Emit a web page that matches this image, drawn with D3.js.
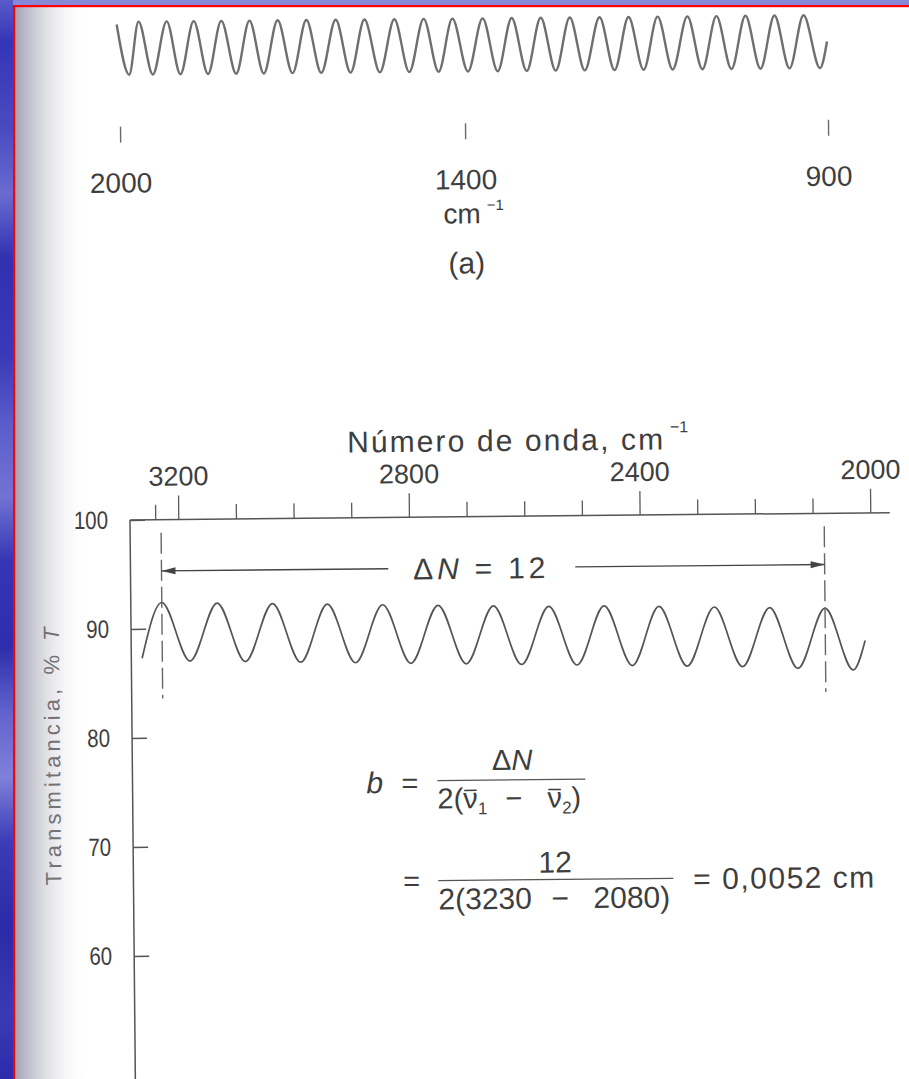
<!DOCTYPE html>
<html>
<head>
<meta charset="utf-8">
<script src="https://cdn.jsdelivr.net/npm/d3@7"></script>
<style>
  html, body { margin: 0; padding: 0; background: #ffffff; overflow: hidden; }
  svg { display: block; }
  text { font-family: "Liberation Sans", Arial, Helvetica, sans-serif; fill: #3e3e3e; }
</style>
</head>
<body>
<svg id="chart" width="909" height="1079"></svg>
<script>
// ---------- Panel (a): fringe pattern, 2000–900 cm^-1 ----------
const ticksA = [2000, 1400, 900];
const tickLabelsA = ["2000", "1400", "900"];
// extrema of the fringe trace (wavenumber, relative level 0 = trough, 1 = crest)
const fringeWnA = [2005, 1984, 1967, 1943, 1918, 1895, 1871, 1847, 1823, 1798, 1774,
  1750, 1725, 1700, 1675, 1650, 1624, 1599, 1574, 1548, 1522, 1497, 1471, 1446, 1421,
  1396, 1375, 1355, 1335, 1315, 1295, 1275, 1255, 1235, 1214, 1194, 1174, 1154, 1134,
  1114, 1093, 1073, 1053, 1033, 1013, 993, 973, 953, 933, 911, 901];
const fringeLevelA = [0.95, 0, 1, 0, 1, 0, 1, 0, 1, 0, 1,
  0, 1, 0, 1, 0, 1, 0, 1, 0, 1, 0, 1, 0, 1,
  0, 1, 0, 1, 0, 1, 0, 1, 0, 1, 0, 1, 0, 1,
  0, 1, 0, 1, 0, 1, 0, 1, 0, 1, 0, 0.5];

// ---------- Panel (b): empty-cell fringes, 3200–2000 cm^-1 ----------
const majorTicksB = [3200, 2800, 2400, 2000];
const majorTickLabelsB = ["3200", "2800", "2400", "2000"];
const minorTicksB = [3240, 3100, 3000, 2900, 2700, 2600, 2500, 2300, 2200, 2100];
const yTicksB = [100, 90, 80, 70, 60];
const yTickLabelsB = ["100", "90", "80", "70", "60"];
const fringeWnB = [3265, 3230, 3182, 3134, 3086, 3038, 2990, 2943, 2895, 2847, 2799,
  2751, 2703, 2655, 2607, 2559, 2511, 2463, 2415, 2368, 2320, 2272, 2224, 2176, 2128,
  2080, 2032, 2011];
const fringeTB = [87.3, 92.4, 87.0, 92.3, 86.9, 92.2, 86.8, 92.1, 86.7, 92.0, 86.6,
  91.9, 86.5, 91.8, 86.4, 91.7, 86.3, 91.7, 86.2, 91.6, 86.1, 91.5, 86.0, 91.4, 85.8,
  91.3, 85.6, 88.3];
const nu1 = 3230, nu2 = 2080;      // wavenumbers of the marked crests
const deltaN = 12;                 // fringes counted between them
const markerSpanT = [98.8, 83.6];  // vertical extent of the dashed markers (%T)
const arrowT = 95.3;               // level of the ΔN arrow (%T)

const svg = d3.select("#chart");
const defs = svg.append("defs");

// ---------- slide frame ----------
const bandGrad = defs.append("linearGradient").attr("id", "band")
  .attr("x1", 0).attr("y1", 0).attr("x2", 0).attr("y2", 1);
[[0, "#5a5ac8"], [0.04, "#3434b8"], [0.12, "#4b4bc0"], [0.18, "#6a6ad0"], [0.24, "#3030b0"],
 [0.33, "#3a3ab8"], [0.4, "#5f5fcc"], [0.46, "#7272d4"], [0.52, "#3636b4"], [0.6, "#2e2eac"],
 [0.66, "#6262cc"], [0.72, "#8080da"], [0.78, "#3c3cb8"], [0.86, "#2a2aa8"], [0.94, "#3a3ab4"],
 [1, "#2c2cac"]].forEach(([o, c]) => bandGrad.append("stop").attr("offset", o).attr("stop-color", c));

const shade = defs.append("linearGradient").attr("id", "shade")
  .attr("x1", 0).attr("y1", 0).attr("x2", 1).attr("y2", 0);
[[0, "#a3a3b6", 1], [0.25, "#c4c4cf", 0.9], [0.6, "#e8e8ee", 0.6], [1, "#ffffff", 0]]
  .forEach(([o, c, a]) => shade.append("stop").attr("offset", o).attr("stop-color", c).attr("stop-opacity", a));

svg.append("rect").attr("x", 15).attr("y", 7).attr("width", 75).attr("height", 1072).attr("fill", "url(#shade)");
svg.append("rect").attr("x", 0).attr("y", 0).attr("width", 909).attr("height", 6).attr("fill", "#8888d8");
svg.append("rect").attr("x", 0).attr("y", 0).attr("width", 13).attr("height", 1079).attr("fill", "url(#band)");
svg.append("rect").attr("x", 13).attr("y", 5).attr("width", 896).attr("height", 2.2).attr("fill", "#ff0000");
svg.append("rect").attr("x", 13).attr("y", 5).attr("width", 2.2).attr("height", 1074).attr("fill", "#ff0000");

// the printed page sits slightly skewed on the slide
const page = svg.append("g").attr("transform", "rotate(-0.55 500 540)");

// ---------- panel (a) ----------
const xA = d3.scaleLinear().domain([2000, 1400, 900]).range([124.5, 469.5, 832.5]);
const yA = d3.scaleLinear().domain([0, 1]).range([71.2, 18.2]);
const ptsA = fringeWnA.map((w, i) => [w, fringeLevelA[i]]);

page.append("path")
  .attr("d", d3.line().x(d => xA(d[0])).y(d => yA(d[1])).curve(d3.curveMonotoneX)(ptsA))
  .attr("fill", "none").attr("stroke", "#6f6f6f").attr("stroke-width", 2.4)
  .attr("stroke-linejoin", "round");

const axA = page.append("g");
axA.selectAll("line").data(ticksA).join("line")
  .attr("x1", d => xA(d)).attr("x2", d => xA(d))
  .attr("y1", 123).attr("y2", 139)
  .attr("stroke", "#6a6a6a").attr("stroke-width", 1.4);
axA.selectAll("text.tl").data(ticksA).join("text").attr("class", "tl")
  .attr("x", d => xA(d)).attr("y", 189)
  .attr("text-anchor", "middle").attr("font-size", 28)
  .text((d, i) => tickLabelsA[i]);

const unitA = page.append("text").attr("x", xA(1400) - 23).attr("y", 223).attr("font-size", 28);
unitA.append("tspan").text("cm");
unitA.append("tspan").attr("font-size", 15).attr("dx", 6).attr("dy", -13).text("−1");
page.append("text").attr("x", xA(1400)).attr("y", 273)
  .attr("text-anchor", "middle").attr("font-size", 30).text("(a)");

// ---------- panel (b) ----------
const xB = d3.scaleLinear().domain([3200, 2000]).range([178.5, 870.5]);
const yB = d3.scaleLinear().domain([100, 50]).range([516.4, 1061.4]);
const x0 = 130.2, xEnd = 890;

// frame lines
page.append("line").attr("x1", x0).attr("x2", xEnd).attr("y1", yB(100)).attr("y2", yB(100))
  .attr("stroke", "#555").attr("stroke-width", 1.5);
page.append("line").attr("x1", x0).attr("x2", x0).attr("y1", yB(100)).attr("y2", 1110)
  .attr("stroke", "#555").attr("stroke-width", 1.5);

// top wavenumber axis
const topAxis = page.append("g").attr("transform", `translate(0,${yB(100)})`);
topAxis.append("g").call(d3.axisTop(xB).tickValues(minorTicksB).tickSize(15).tickFormat(""))
  .call(g => g.select(".domain").remove());
topAxis.append("g").call(d3.axisTop(xB).tickValues(majorTicksB).tickSize(24).tickPadding(10)
    .tickFormat((d, i) => majorTickLabelsB[i]))
  .call(g => g.select(".domain").remove())
  .call(g => g.selectAll("text").attr("font-size", 27).attr("font-family", null).attr("fill", null));
topAxis.selectAll(".tick line").attr("stroke", "#5a5a5a").attr("stroke-width", 1.3);

// left %T axis, ticks pointing into the plot
const condense = 0.82;
const leftAxis = page.append("g").attr("transform", `translate(${x0},0)`)
  .call(d3.axisLeft(yB).tickValues(yTicksB).tickSize(-15).tickPadding(22)
    .tickFormat((d, i) => yTickLabelsB[i]))
  .call(g => g.select(".domain").remove());
leftAxis.selectAll(".tick line").attr("stroke", "#555").attr("stroke-width", 1.4);
leftAxis.selectAll("text").attr("font-size", 25).attr("font-family", null).attr("fill", null)
  .attr("x", -22 / condense).attr("transform", `scale(${condense},1)`);

// axis titles
page.append("text").attr("x", 348).attr("y", 451).attr("font-size", 30)
  .attr("textLength", 316).attr("lengthAdjust", "spacing").text("Número de onda, cm");
page.append("text").attr("x", 671).attr("y", 434).attr("font-size", 16).text("−1");

const yTitle = page.append("text")
  .attr("transform", "translate(58,752) rotate(-90)")
  .attr("text-anchor", "middle").attr("font-size", 22)
  .attr("textLength", 258).attr("lengthAdjust", "spacing")
  .style("fill", "#737373");
yTitle.append("tspan").text("Transmitancia, % ");
yTitle.append("tspan").attr("font-style", "italic").text("T");

// fringe trace
const ptsB = fringeWnB.map((w, i) => [w, fringeTB[i]]);
page.append("path")
  .attr("d", d3.line().x(d => xB(d[0])).y(d => yB(d[1])).curve(d3.curveMonotoneX)(ptsB))
  .attr("fill", "none").attr("stroke", "#555").attr("stroke-width", 1.7)
  .attr("stroke-linejoin", "round");

// dashed markers at the two counted crests
page.selectAll("line.mark").data([nu1, nu2]).join("line").attr("class", "mark")
  .attr("x1", d => xB(d)).attr("x2", d => xB(d))
  .attr("y1", yB(markerSpanT[0])).attr("y2", yB(markerSpanT[1]))
  .attr("stroke", "#666").attr("stroke-width", 1.4).attr("stroke-dasharray", "21 6");

// ΔN arrow with label
const ay = yB(arrowT);
const lbl = page.append("text").attr("x", 413).attr("y", ay + 11)
  .attr("font-size", 30).attr("textLength", 132).attr("lengthAdjust", "spacing");
lbl.append("tspan").text("Δ");
lbl.append("tspan").attr("font-style", "italic").text("N");
lbl.append("tspan").text(` = ${deltaN}`);
const bb = lbl.node().getBBox();
const arrow = page.append("g").attr("stroke", "#444").attr("stroke-width", 1.4);
arrow.append("line").attr("x1", xB(nu1)).attr("x2", bb.x - 25).attr("y1", ay).attr("y2", ay);
arrow.append("line").attr("x1", bb.x + bb.width + 30).attr("x2", xB(nu2)).attr("y1", ay).attr("y2", ay);
const head = (xt, dir) => `M${xt},${ay} L${xt + dir * 14},${ay - 3.5} L${xt + dir * 14},${ay + 3.5} Z`;
page.append("path").attr("d", head(xB(nu1), 1)).attr("fill", "#444");
page.append("path").attr("d", head(xB(nu2), -1)).attr("fill", "#444");

// ---------- thickness formula ----------
const fz = 29;
const f = page.append("g");
const overbar = (textSel, ci, base) => {
  const e = textSel.node().getExtentOfChar(ci);
  f.append("line").attr("x1", e.x + 1).attr("x2", e.x + e.width - 1)
    .attr("y1", base - 0.62 * fz).attr("y2", base - 0.62 * fz)
    .attr("stroke", "#3e3e3e").attr("stroke-width", 1.5);
};

// b = ΔN / 2(ν̄1 − ν̄2)
f.append("text").attr("x", 364).attr("y", 792).attr("font-size", 30).attr("font-style", "italic").text("b");
f.append("text").attr("x", 399).attr("y", 792).attr("font-size", fz).text("=");
const num1 = f.append("text").attr("x", 510).attr("y", 770).attr("text-anchor", "middle").attr("font-size", fz);
num1.append("tspan").text("Δ");
num1.append("tspan").attr("font-style", "italic").text("N");
f.append("line").attr("x1", 435).attr("x2", 583).attr("y1", 780).attr("y2", 780)
  .attr("stroke", "#555").attr("stroke-width", 1.3);
const dBase = 808;
const d1a = f.append("text").attr("x", 435).attr("y", dBase).attr("font-size", fz);
d1a.append("tspan").text("2(ν");
d1a.append("tspan").attr("font-size", 17).attr("dy", 6).text("1");
overbar(d1a, 2, dBase);
f.append("text").attr("x", 503).attr("y", dBase).attr("font-size", fz).text("−");
const d1b = f.append("text").attr("x", 545).attr("y", dBase).attr("font-size", fz);
d1b.append("tspan").text("ν");
d1b.append("tspan").attr("font-size", 17).attr("dy", 6).text("2");
d1b.append("tspan").attr("dy", -6).text(")");
overbar(d1b, 0, dBase);

// = 12 / 2(3230 − 2080) = 0,0052 cm
f.append("text").attr("x", 400).attr("y", 890).attr("font-size", fz).text("=");
f.append("text").attr("x", 552).attr("y", 873).attr("text-anchor", "middle").attr("font-size", 30).text(`${deltaN}`);
f.append("line").attr("x1", 435).attr("x2", 670).attr("y1", 880).attr("y2", 880)
  .attr("stroke", "#555").attr("stroke-width", 1.3);
f.append("text").attr("x", 435).attr("y", 909).attr("font-size", 30).text(`2(${nu1}`);
f.append("text").attr("x", 548).attr("y", 909).attr("font-size", 30).text("−");
f.append("text").attr("x", 590).attr("y", 909).attr("font-size", 30).text(`${nu2})`);
const thickness = deltaN / (2 * (nu1 - nu2));
f.append("text").attr("x", 690).attr("y", 891).attr("font-size", 30)
  .attr("textLength", 181).attr("lengthAdjust", "spacing")
  .text(`= ${thickness.toFixed(4).replace(".", ",")} cm`);
</script>
</body>
</html>
